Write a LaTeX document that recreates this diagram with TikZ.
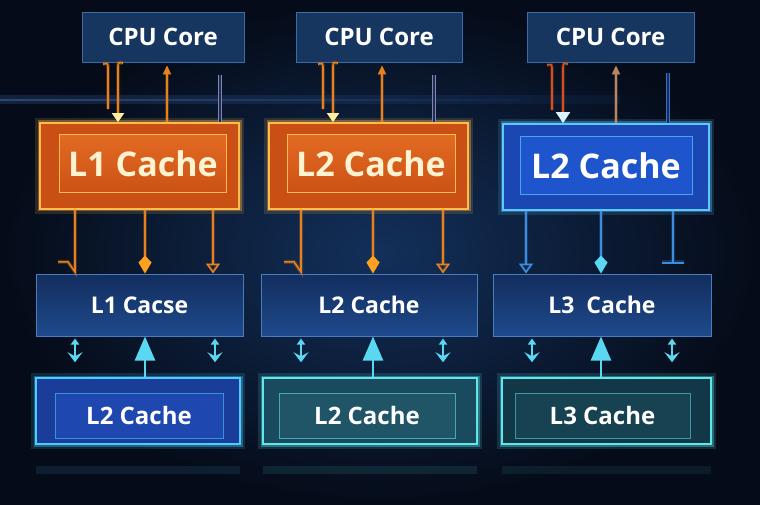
\documentclass[tikz,border=0pt]{standalone}
\usepackage{fontspec}
\newfontfamily\boxfont{Open Sans}
\usetikzlibrary{
    arrows.meta
}

\definecolor{bgcenter}{HTML}{13305A}
\definecolor{bgedge}{HTML}{050B18}
\definecolor{streak}{HTML}{3C6CB4}
\definecolor{cpufill}{HTML}{17365F}
\definecolor{cpuedge}{HTML}{3A6CA6}
\definecolor{orangeouter}{HTML}{C94F14}
\definecolor{orangeinner}{HTML}{E26A22}
\definecolor{orangeedge}{HTML}{FFBB4C}
\definecolor{orangewire}{HTML}{E8801E}
\definecolor{arrowyellow}{HTML}{FFF0A0}
\definecolor{arrowamber}{HTML}{FFA020}
\definecolor{hookred}{HTML}{D2501E}
\definecolor{tanwire}{HTML}{B88462}
\definecolor{barpurple}{HTML}{8C80A8}
\definecolor{barblue}{HTML}{3A6CC8}
\definecolor{bluetopouter}{HTML}{1A47B2}
\definecolor{bluetopinner}{HTML}{1F55CC}
\definecolor{blueedge}{HTML}{5CC8FF}
\definecolor{bluewire}{HTML}{3C8CE0}
\definecolor{midtop}{HTML}{132D5E}
\definecolor{midbottom}{HTML}{1E4A8C}
\definecolor{midedge}{HTML}{4A7CC0}
\definecolor{cyanwire}{HTML}{5AD8F2}
\definecolor{lowblue}{HTML}{1B3D9A}
\definecolor{lowbluein}{HTML}{1F47B0}
\definecolor{lowblueedge}{HTML}{4CCCFF}
\definecolor{lowteal}{HTML}{1A4A5E}
\definecolor{lowtealin}{HTML}{1F5566}
\definecolor{lowdeep}{HTML}{123848}
\definecolor{lowdeepin}{HTML}{164252}
\definecolor{tealedge}{HTML}{5EE8EE}
\definecolor{textcream}{HTML}{FFF3D2}

\begin{document}
\begin{tikzpicture}[
    x=1pt,
    y=-1pt,
    every node/.style={
        font=\boxfont\bfseries,
        text=white
    },
    glow/.style={
        preaction={draw=#1, draw opacity=0.15, line width=10pt},
        preaction={draw=#1, draw opacity=0.35, line width=5pt}
    },
    cpubox/.style={
        draw=cpuedge,
        fill=cpufill,
        line width=0.8pt,
        minimum height=50pt,
        font=\boxfont\bfseries\fontsize{24}{28}\selectfont
    },
    cachetop/.style={
        line width=1.8pt,
        minimum height=86pt
    },
    cachecore/.style={
        line width=1pt,
        minimum height=58pt,
        font=\boxfont\bfseries\fontsize{34}{40}\selectfont
    },
    midbox/.style={
        draw=midedge,
        top color=midtop,
        bottom color=midbottom,
        line width=1pt,
        minimum height=62pt,
        font=\boxfont\bfseries\fontsize{23}{28}\selectfont
    },
    lowframe/.style={
        draw=#1,
        glow=#1,
        line width=1.5pt,
        minimum height=66pt
    },
    lowcore/.style={
        draw=#1,
        line width=0.8pt,
        minimum height=45pt,
        font=\boxfont\bfseries\fontsize{24}{28}\selectfont
    },
    wire/.style={
        draw=#1,
        line width=1.6pt,
        preaction={draw=#1, draw opacity=0.25, line width=4pt}
    },
    wirebar/.style={
        draw=#1,
        line width=0.9pt,
        double=bgcenter,
        double distance=2pt
    },
    updown/.style={
        draw=cyanwire,
        line width=1.8pt,
        {Triangle[width=8pt,length=6pt]}-{Stealth[width=15pt,length=10pt,inset=4pt]},
        shorten <=2pt,
        shorten >=15pt
    },
    bigup/.style={
        draw=cyanwire,
        line width=2.4pt,
        -{Triangle[width=20pt,length=24pt]}
    }
]

    % -------------------------------------------------------
    % Background
    % -------------------------------------------------------
    \shade[inner color=bgcenter, outer color=bgedge]
        (0,0) rectangle (760,505);
    \useasboundingbox (0,0) rectangle (760,505);

    \shade[left color=streak, right color=bgcenter, opacity=0.25]
        (0,96) rectangle (620,104);
    \shade[left color=streak!80!white, right color=bgcenter, opacity=0.35]
        (0,99.5) rectangle (520,100.5);

    % reflections under the lower row
    \fill[lowblueedge, opacity=0.10] (36,466) rectangle (240,474);
    \fill[tealedge, opacity=0.10] (263,466) rectangle (477,474);
    \fill[tealedge, opacity=0.08] (502,466) rectangle (711,474);

    % -------------------------------------------------------
    % CPU cores
    % -------------------------------------------------------
    \node[cpubox, minimum width=162pt] (cpuA) at (163,37) {CPU Core};
    \node[cpubox, minimum width=166pt] (cpuB) at (379,37) {CPU Core};
    \node[cpubox, minimum width=167pt] (cpuC) at (610.5,37) {CPU Core};

    % -------------------------------------------------------
    % Upper caches
    % -------------------------------------------------------
    \node[cachetop, draw=orangeedge, fill=orangeouter, glow=orangeedge,
          minimum width=199pt] (topA) at (139.5,166) {};
    \node[cachecore, draw=orangeedge, top color=orangeinner,
          bottom color=orangeouter!90!orangeinner, text=textcream,
          minimum width=167pt] (topAin) at (143,164) {L1 Cache};

    \node[cachetop, draw=orangeedge, fill=orangeouter, glow=orangeedge,
          minimum width=199pt] (topB) at (368.5,166) {};
    \node[cachecore, draw=orangeedge, top color=orangeinner,
          bottom color=orangeouter!90!orangeinner, text=textcream,
          minimum width=168pt] (topBin) at (371,164) {L2 Cache};

    \node[cachetop, draw=blueedge, fill=bluetopouter, glow=blueedge,
          minimum width=206pt] (topC) at (606,167) {};
    \node[cachecore, draw=blueedge!70!bluetopinner, fill=bluetopinner,
          minimum width=172pt] (topCin) at (606,166) {L2 Cache};

    % -------------------------------------------------------
    % Middle caches
    % -------------------------------------------------------
    \node[midbox, minimum width=207pt] (midA) at (139.5,305) {L1 Cacse};
    \node[midbox, minimum width=216pt] (midB) at (369,305) {L2 Cache};
    \node[midbox, minimum width=218pt] (midC) at (602,305) {L3~~Cache};

    % -------------------------------------------------------
    % Lower caches
    % -------------------------------------------------------
    \node[lowframe=lowblueedge, fill=lowblue,
          minimum width=204pt] (botA) at (138,411) {};
    \node[lowcore=lowblueedge!60!lowblue, fill=lowbluein,
          minimum width=168pt] (botAin) at (139,415.5) {L2 Cache};

    \node[lowframe=tealedge, fill=lowteal,
          minimum width=214pt] (botB) at (370,411) {};
    \node[lowcore=tealedge!60!lowteal, fill=lowtealin,
          minimum width=176pt] (botBin) at (367,415.5) {L2 Cache};

    \node[lowframe=tealedge, fill=lowdeep,
          minimum width=209pt] (botC) at (606.5,411) {};
    \node[lowcore=tealedge!55!lowdeep, fill=lowdeepin,
          minimum width=175pt] (botCin) at (602.5,415.5) {L3 Cache};

    % -------------------------------------------------------
    % CPU <-> upper caches
    % -------------------------------------------------------
    \draw[wire=orangewire]
        (topA.north -| 108,0) ++(0,-13) -- ++(0,-40)
        .. controls +(0,-6) .. ++(-5,-5);
    \draw[wire=orangewire, {Triangle[width=12pt,length=9pt,color=arrowyellow]}-]
        (topA.north -| 118,0) -- ++(0,-54)
        .. controls +(0,-6) .. ++(5,-5);
    \draw[wire=orangewire, -{Triangle[width=8pt,length=9pt]}, shorten >=3pt]
        (topA.north -| 167,0) -- (cpuA.south -| 167,0);
    \draw[wirebar=barpurple] (topA.north -| 220,0) -- ++(0,-47);

    \draw[wire=orangewire]
        (topB.north -| 323,0) ++(0,-13) -- ++(0,-40)
        .. controls +(0,-6) .. ++(-5,-5);
    \draw[wire=orangewire, {Triangle[width=12pt,length=9pt,color=arrowyellow]}-]
        (topB.north -| 333,0) -- ++(0,-54)
        .. controls +(0,-6) .. ++(5,-5);
    \draw[wire=orangewire, -{Triangle[width=8pt,length=9pt]}, shorten >=3pt]
        (topB.north -| 382,0) -- (cpuB.south -| 382,0);
    \draw[wirebar=barpurple] (topB.north -| 434,0) -- ++(0,-47);

    \draw[wire=hookred]
        (topC.north -| 552,0) ++(0,-13) -- ++(0,-40)
        .. controls +(0,-6) .. ++(-5,-5);
    \draw[wire=hookred, {Triangle[width=14pt,length=11pt,color=white!85!cyan]}-]
        (topC.north -| 563,0) -- ++(0,-54)
        .. controls +(0,-6) .. ++(5,-5);
    \draw[wire=tanwire, -{Triangle[width=8pt,length=9pt]}, shorten >=3pt]
        (topC.north -| 616,0) -- (cpuC.south -| 616,0);
    \draw[wirebar=barblue] (topC.north -| 668,0) -- ++(0,-50);

    % -------------------------------------------------------
    % Upper caches -> middle caches
    % -------------------------------------------------------
    \draw[wire=orangewire]
        (topA.south -| 75,0) -- ++(0,62) -- ++(-7,-10) -- ++(-10,0);
    \draw[wire=orangewire, -{Kite[width=13pt,length=18pt,inset=7pt,color=arrowamber]}]
        (topA.south -| 145,0) -- (midA.north -| 145,0);
    \draw[wire=orangewire, -{Triangle[open,width=14pt,length=10pt]}]
        (topA.south -| 213,0) -- (midA.north -| 213,0);

    \draw[wire=orangewire]
        (topB.south -| 301,0) -- ++(0,62) -- ++(-7,-10) -- ++(-10,0);
    \draw[wire=orangewire, -{Kite[width=13pt,length=18pt,inset=7pt,color=arrowamber]}]
        (topB.south -| 373,0) -- (midB.north -| 373,0);
    \draw[wire=orangewire, -{Triangle[open,width=14pt,length=10pt]}]
        (topB.south -| 443,0) -- (midB.north -| 443,0);

    \draw[wire=bluewire, -{Triangle[open,width=14pt,length=10pt]}]
        (topC.south -| 526,0) -- (midC.north -| 526,0);
    \draw[wire=bluewire, -{Kite[width=13pt,length=18pt,inset=7pt,color=cyanwire]}]
        (topC.south -| 601,0) -- (midC.north -| 601,0);
    \draw[wire=bluewire, -{Bar[width=22pt]}, shorten >=10pt]
        (topC.south -| 673,0) -- (midC.north -| 673,0);

    % -------------------------------------------------------
    % Middle caches <-> lower caches
    % -------------------------------------------------------
    \draw[updown] (midA.south -| 75,0) -- (botA.north -| 75,0);
    \draw[bigup] (botA.north -| 145,0) -- (midA.south -| 145,0);
    \draw[updown] (midA.south -| 215,0) -- (botA.north -| 215,0);

    \draw[updown] (midB.south -| 301,0) -- (botB.north -| 301,0);
    \draw[bigup] (botB.north -| 373,0) -- (midB.south -| 373,0);
    \draw[updown] (midB.south -| 443,0) -- (botB.north -| 443,0);

    \draw[updown] (midC.south -| 532,0) -- (botC.north -| 532,0);
    \draw[bigup] (botC.north -| 601,0) -- (midC.south -| 601,0);
    \draw[updown] (midC.south -| 672,0) -- (botC.north -| 672,0);

\end{tikzpicture}
\end{document}
